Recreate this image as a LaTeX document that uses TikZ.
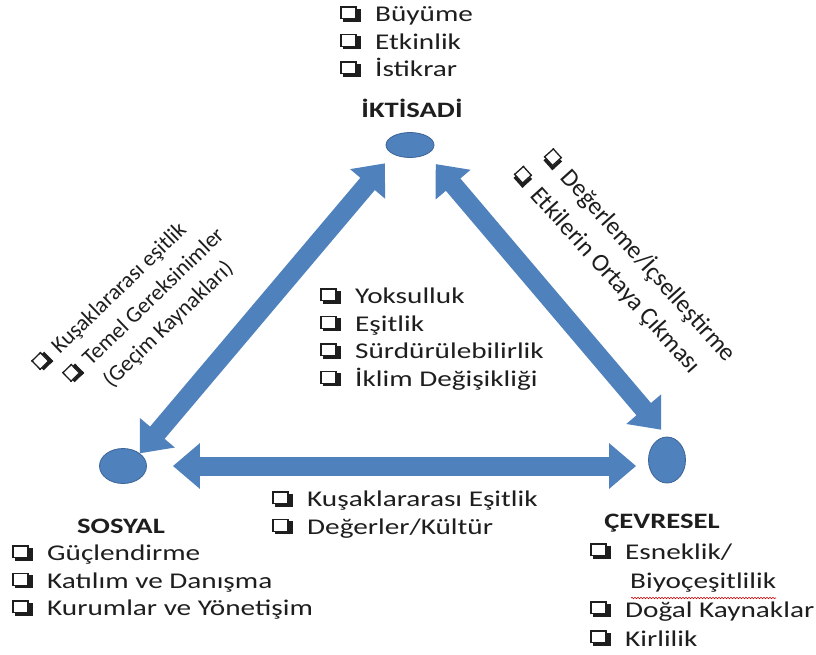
\documentclass[tikz,border=0pt]{standalone}
\usepackage{fontspec}
\setmainfont{Carlito}[FakeStretch=1.3]
\newfontfamily\sidefont{Carlito}
\usetikzlibrary{arrows.meta,shapes.geometric,decorations.pathmorphing}
\definecolor{pillarblue}{RGB}{79,129,189}
\definecolor{pillaredge}{RGB}{60,100,150}
\definecolor{listgray}{RGB}{30,30,30}
% shadowed check box, drawn with rules
\newcommand{\chkglyph}{{\setlength{\unitlength}{1pt}\begin{picture}(16,15)
	\put(0,2.6){\rule{13pt}{1.3pt}}
	\put(0,14.3){\rule{13pt}{1.3pt}}
	\put(0,2.6){\rule{1.3pt}{13pt}}
	\put(11.7,2.6){\rule{1.3pt}{13pt}}
	\put(2.5,0){\rule{13.3pt}{2.8pt}}
	\put(12.9,0){\rule{2.9pt}{13pt}}
\end{picture}}}
\newcommand{\chk}{\strut\makebox[35pt][l]{\scalebox{1.3}[1]{\chkglyph}}}
\newcommand{\chkr}[1]{\strut\makebox[#1][l]{\chkglyph}}
\tikzset{
	pillar/.style={ellipse, fill=pillarblue, draw=pillaredge, line width=0.8pt, inner sep=0pt},
	twoway/.style={draw=pillarblue, line width=19pt,
		{Triangle[width=44pt,length=27pt]}-{Triangle[width=44pt,length=27pt]}},
	itemlist/.style={align=left, inner sep=0pt, anchor=north west, text=listgray,
		font=\fontsize{22.5}{27.5}\selectfont},
	sidelist/.style={align=left, inner sep=0pt, anchor=center, text=listgray},
	pillarname/.style={anchor=base, inner sep=0pt, text=listgray,
		font=\bfseries\fontsize{22}{27}\selectfont}
}

\begin{document}
\begin{tikzpicture}[x=1pt, y=-1pt]
		%%%%% START %%%%%
		\useasboundingbox[fill=white] (0, 0) rectangle (816, 654);
		
		% the three pillars
		\node[pillar, minimum width=48pt, minimum height=25pt] (iktisadi) at (410, 145) {};
		\node[pillar, minimum width=47pt, minimum height=35pt] (sosyal) at (123, 466) {};
		\node[pillar, minimum width=37pt, minimum height=46pt] (cevresel) at (667, 460) {};
		
		\node[pillarname] (iktisadiname) at (412, 117) {İKTİSADİ};
		\node[pillarname] (sosyalname) at (121, 533) {SOSYAL};
		\node[pillarname] (cevreselname) at (662, 528) {ÇEVRESEL};
		
		% links between them
		\draw[twoway, shorten >=12pt] (sosyal.north east) -- (iktisadi.south west);
		\draw[twoway, shorten <=13pt, shorten >=9pt] (iktisadi.south east) -- (cevresel.north);
		\draw[twoway, shorten <=26pt, shorten >=12pt] (sosyal.east) -- (sosyal.east -| cevresel.west);
		
		% lists
		\node[itemlist] (iktisadilist) at (340, 2.5) {\chk Büyüme\\ \chk Etkinlik\\ \chk İstikrar};
		\node[itemlist] (ortalist) at (320, 284.5) {\chk Yoksulluk\\ \chk Eşitlik\\ \chk Sürdürülebilirlik\\ \chk İklim Değişikliği};
		\node[itemlist] (altlist) at (272, 487.5) {\chk Kuşaklararası Eşitlik\\ \chk Değerler/Kültür};
		\node[itemlist] (sosyallist) at (12, 541.5) {\chk Güçlendirme\\ \chk Katılım ve Danışma\\ \chk Kurumlar ve Yönetişim};
		\node[itemlist, font=\fontsize{22.5}{29}\selectfont] (cevresellist) at (590, 538.5)
			{\chk Esneklik/\\ \hspace*{40pt}Biyoçeşitlilik\\ \chk Doğal Kaynaklar\\ \chk Kirlilik};
		\draw[red!80!black, line width=0.6pt, decorate, decoration={snake, amplitude=0.7pt, segment length=3pt}] (631, 598) -- (776, 598);
		
		% texts along the sides
		\node[sidelist, rotate=44, font=\sidefont\fontsize{22.5}{30}\selectfont] (solkenar) at (138, 309)
			{\chkr{25pt}Kuşaklararası eşitlik\\ \hspace*{14pt}\chkr{25pt}Temel Gereksinimler\\ \hspace*{39pt}(Geçim Kaynakları)};
		\node[sidelist, rotate=-48, font=\sidefont\fontsize{25}{34}\selectfont] (sagkenar) at (624, 265)
			{\hspace*{7pt}\chkr{27pt}Değerleme/İçselleştirme\\ \chkr{27pt}Etkilerin Ortaya Çıkması};
		
		%%%%% END %%%%%
	\end{tikzpicture}
\end{document}
